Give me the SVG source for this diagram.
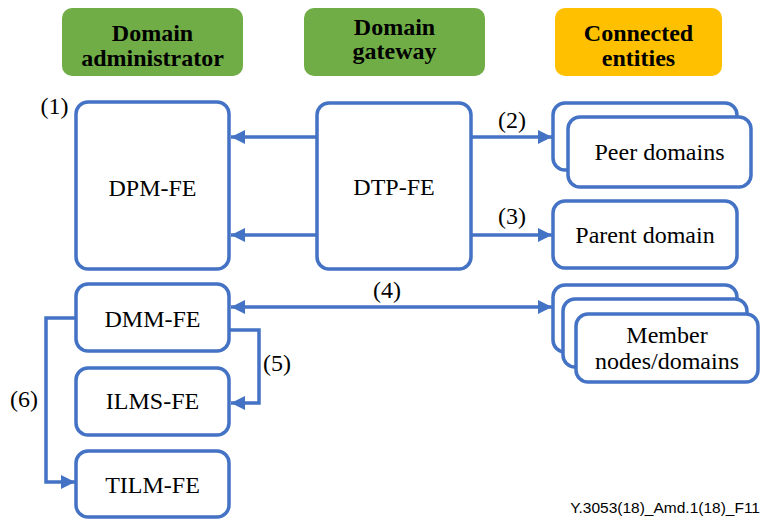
<svg xmlns="http://www.w3.org/2000/svg" width="762" height="522" viewBox="0 0 762 522">
<style>
.hdr{font-family:'Liberation Serif','Times New Roman',serif;font-weight:bold;font-size:24px;fill:#000;text-anchor:middle}
.box{fill:#fff;stroke:#4472C4;stroke-width:3.5}
.t{font-family:'Liberation Serif','Times New Roman',serif;font-size:24px;fill:#000;text-anchor:middle}
.lbl{font-family:'Liberation Serif','Times New Roman',serif;font-size:24px;fill:#000;text-anchor:middle}
.ln{fill:none;stroke:#4472C4;stroke-width:3.5}
.foot{font-family:'Liberation Sans',Arial,sans-serif;font-size:15.5px;fill:#000;text-anchor:end}
</style>
<defs>
<marker id="ah" markerUnits="userSpaceOnUse" markerWidth="16" markerHeight="16" refX="14" refY="7" orient="auto-start-reverse" viewBox="0 0 16 14">
<path d="M0,0 L14,7 L0,14 z" fill="#4472C4"/>
</marker>
</defs>
<rect width="762" height="522" fill="#fff"/>
<g id="hdr-admin"><rect x="62" y="8" width="181" height="68" rx="10" fill="#70AD47"/><text class="hdr" x="152.5" y="41">Domain</text><text class="hdr" x="152.5" y="66">administrator</text></g>
<g id="hdr-gateway"><rect x="304" y="8" width="181" height="68" rx="10" fill="#70AD47"/><text class="hdr" x="394.5" y="35">Domain</text><text class="hdr" x="394.5" y="59">gateway</text></g>
<g id="hdr-connected"><rect x="555" y="8" width="167" height="68" rx="10" fill="#FFC000"/><text class="hdr" x="638.5" y="41">Connected</text><text class="hdr" x="638.5" y="66">entities</text></g>

<g id="dpm"><rect class="box" x="76" y="102" width="153" height="167" rx="12"/><text class="t" x="152.5" y="196">DPM-FE</text></g>
<text class="lbl" x="54.5" y="114">(1)</text>
<g id="dtp"><rect class="box" x="317" y="103" width="154" height="166" rx="12"/><text class="t" x="394" y="195">DTP-FE</text></g>
<g id="peer"><rect class="box" x="553" y="103" width="184" height="67" rx="12"/><rect class="box" x="568" y="117" width="183" height="70" rx="12"/><text class="t" x="659.5" y="160">Peer domains</text></g>
<g id="parent"><rect class="box" x="553" y="201" width="184" height="67" rx="12"/><text class="t" x="645" y="243">Parent domain</text></g>
<g id="dmm"><rect class="box" x="76" y="284" width="153" height="67" rx="12"/><text class="t" x="152.5" y="327">DMM-FE</text></g>
<g id="ilms"><rect class="box" x="76" y="368" width="153" height="67" rx="12"/><text class="t" x="152.5" y="409">ILMS-FE</text></g>
<g id="tilm"><rect class="box" x="76" y="451" width="153" height="66" rx="12"/><text class="t" x="152.5" y="493">TILM-FE</text></g>
<g id="member"><rect class="box" x="553" y="285" width="184" height="67" rx="12"/><rect class="box" x="563" y="299" width="184" height="68" rx="12"/><rect class="box" x="576" y="314" width="182" height="68" rx="12"/><text class="t" x="667" y="343">Member</text><text class="t" x="667" y="369">nodes/domains</text></g>

<g id="connectors">
<line class="ln" x1="317" y1="137" x2="231" y2="137" marker-end="url(#ah)"/>
<line class="ln" x1="317" y1="235" x2="231" y2="235" marker-end="url(#ah)"/>
<line class="ln" x1="471" y1="137" x2="552" y2="137" marker-end="url(#ah)"/>
<line class="ln" x1="471" y1="235" x2="552" y2="235" marker-end="url(#ah)"/>
<line class="ln" x1="231" y1="307" x2="552" y2="307" marker-start="url(#ah)" marker-end="url(#ah)"/>
<polyline class="ln" points="229,330 259,330 259,403 231,403" marker-end="url(#ah)"/>
<polyline class="ln" points="76,318 46,318 46,482 75,482" marker-end="url(#ah)"/>
</g>
<text class="lbl" x="512" y="128">(2)</text>
<text class="lbl" x="512" y="224">(3)</text>
<text class="lbl" x="387" y="298">(4)</text>
<text class="lbl" x="277" y="371">(5)</text>
<text class="lbl" x="24" y="407">(6)</text>
<text class="foot" x="760" y="513">Y.3053(18)_Amd.1(18)_F11</text>
</svg>
